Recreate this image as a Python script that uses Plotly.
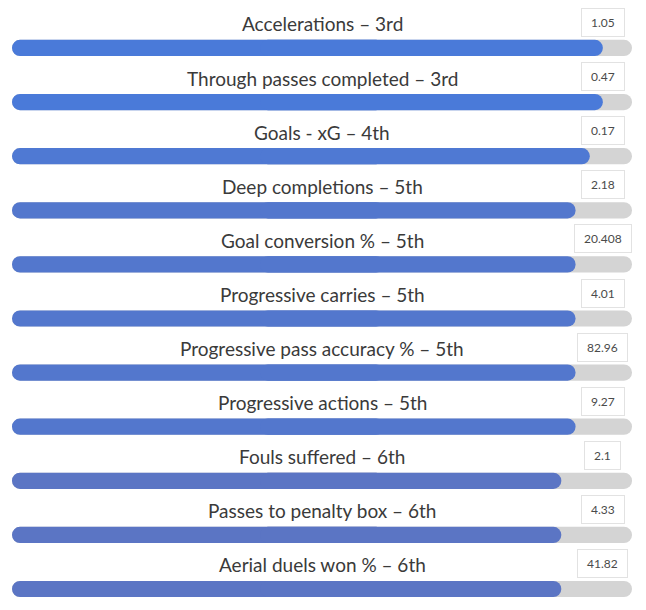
import plotly.graph_objects as go

metrics = ["Accelerations", "Through passes completed", "Goals - xG", "Deep completions",
           "Goal conversion %", "Progressive carries", "Progressive pass accuracy %",
           "Progressive actions", "Fouls suffered", "Passes to penalty box", "Aerial duels won %"]
ranks = ["3rd", "3rd", "4th", "5th", "5th", "5th", "5th", "5th", "6th", "6th", "6th"]
percentiles = [95.3, 95.3, 93.2, 90.9, 90.9, 90.9, 90.9, 90.9, 88.6, 88.6, 88.6]
values = ["1.05", "0.47", "0.17", "2.18", "20.408", "4.01", "82.96", "9.27", "2.1", "4.33", "41.82"]

rank_colors = {"3rd": "#4a7ad9", "4th": "#4f79d3", "5th": "#5377cd", "6th": "#5b75c4"}

n = len(metrics)
ypos = list(range(n))
left_base = 60
right_base = 40
fill_colors = [rank_colors[r] for r in ranks]

fig = go.Figure()


def rounded_bar(lengths_right, color):
    # two overlapping pieces so both outer ends get rounded corners
    fig.add_trace(go.Bar(
        x=[-left_base] * n, base=[left_base] * n, y=ypos, orientation="h", width=0.3,
        marker=dict(color=color, cornerradius=8, line=dict(width=0)),
        hoverinfo="skip", showlegend=False))
    fig.add_trace(go.Bar(
        x=[v - right_base for v in lengths_right], base=[right_base] * n, y=ypos,
        orientation="h", width=0.3,
        marker=dict(color=color, cornerradius=8, line=dict(width=0)),
        hoverinfo="skip", showlegend=False))


rounded_bar([100] * n, "#d4d4d4")
rounded_bar(percentiles, fill_colors)

for i, (m, r, v) in enumerate(zip(metrics, ranks, values)):
    fig.add_annotation(x=50, y=i - 0.445, text=f"{m} \u2013 {r}", showarrow=False,
                       xanchor="center", yanchor="middle",
                       font=dict(family="Lato", size=19, color="#3a3a3a"))
    fig.add_annotation(x=95.3, y=i - 0.47, text=f"\u00a0{v}\u00a0", showarrow=False,
                       xanchor="center", yanchor="middle",
                       bgcolor="white", bordercolor="#e2e2e2", borderwidth=1, borderpad=6,
                       font=dict(family="Lato", size=12, color="#4a4a4a"))

fig.update_layout(
    width=638, height=602,
    margin=dict(l=4, r=14, t=0, b=0),
    paper_bgcolor="white", plot_bgcolor="white",
    barmode="overlay",
    xaxis=dict(range=[0, 100], visible=False, fixedrange=True),
    yaxis=dict(range=[10.388, -0.739], visible=False, fixedrange=True),
)

fig.write_html("out.html")
